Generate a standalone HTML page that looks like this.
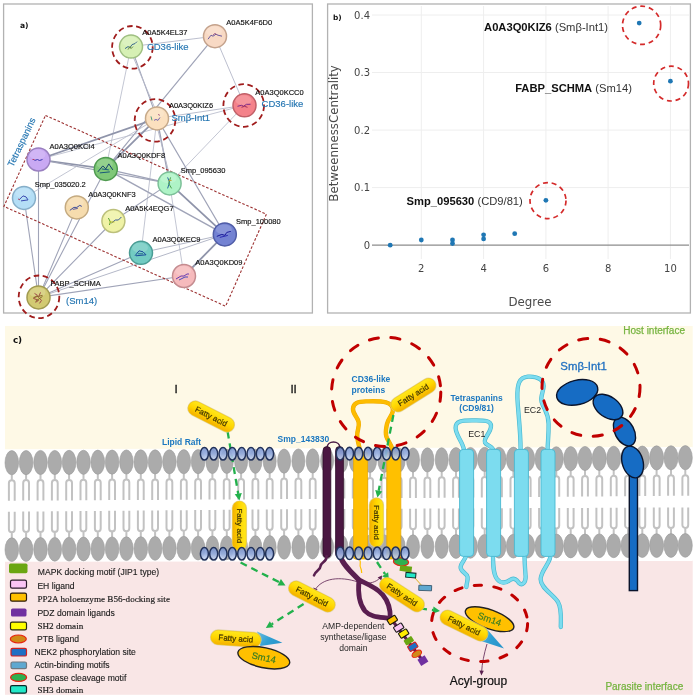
<!DOCTYPE html>
<html lang="en"><head><meta charset="utf-8"><title>Figure</title>
<style>
html,body{margin:0;padding:0;background:#fff;}
body{width:695px;height:700px;overflow:hidden;font-family:"Liberation Sans",Arial,sans-serif;}
svg{display:block;filter:blur(0.55px);}
</style></head><body>
<svg width="695" height="700" viewBox="0 0 695 700">
<defs>
<linearGradient id="gPill" x1="0" y1="0" x2="0" y2="1"><stop offset="0" stop-color="#ffe81e"/><stop offset="0.5" stop-color="#ffd600"/><stop offset="1" stop-color="#f4b000"/></linearGradient>
<linearGradient id="gRaft" x1="0" y1="0" x2="0" y2="1"><stop offset="0" stop-color="#cfdcf4"/><stop offset="0.55" stop-color="#9fb6e4"/><stop offset="1" stop-color="#5f7fc0"/></linearGradient>
<linearGradient id="gRaftB" x1="0" y1="0" x2="0" y2="1"><stop offset="0" stop-color="#7690cc"/><stop offset="0.5" stop-color="#94acde"/><stop offset="1" stop-color="#d2def6"/></linearGradient>
<linearGradient id="gTri" x1="0" y1="0" x2="1" y2="0.4"><stop offset="0" stop-color="#6fbbe0"/><stop offset="0.6" stop-color="#2f9fd2"/><stop offset="1" stop-color="#2a96cc"/></linearGradient>
</defs>
<rect width="695" height="700" fill="#ffffff"/>
<g id="panelA">
<rect x="3.6" y="4" width="308.8" height="309" fill="#fff" stroke="#b2b2b2" stroke-width="1.3"/>
<g stroke="#a3a7b8" fill="none" stroke-linecap="round">
<line x1="131.0" y1="46.6" x2="215.0" y2="36.2" stroke="#b4b8c8" stroke-width="0.9"/>
<line x1="131.0" y1="46.6" x2="157.0" y2="118.4" stroke="#a0a4b8" stroke-width="1.1"/>
<line x1="129.1" y1="47.3" x2="158.9" y2="117.7" stroke="#b4b8c8" stroke-width="0.9"/>
<line x1="131.0" y1="46.6" x2="105.8" y2="168.9" stroke="#b4b8c8" stroke-width="0.8"/>
<line x1="215.0" y1="36.2" x2="244.5" y2="105.3" stroke="#b4b8c8" stroke-width="0.9"/>
<line x1="215.0" y1="36.2" x2="105.8" y2="168.9" stroke="#a0a4b8" stroke-width="1.2"/>
<line x1="157.0" y1="118.4" x2="244.5" y2="105.3" stroke="#b4b8c8" stroke-width="0.9"/>
<line x1="244.5" y1="105.3" x2="169.6" y2="183.4" stroke="#b4b8c8" stroke-width="0.8"/>
<line x1="244.5" y1="105.3" x2="38.5" y2="159.5" stroke="#b4b8c8" stroke-width="0.8"/>
<line x1="157.0" y1="118.4" x2="38.5" y2="159.5" stroke="#8f94aa" stroke-width="1.8"/>
<line x1="157.0" y1="118.4" x2="105.8" y2="168.9" stroke="#8f94aa" stroke-width="1.7"/>
<line x1="157.0" y1="118.4" x2="169.6" y2="183.4" stroke="#a0a4b8" stroke-width="1.4"/>
<line x1="155.0" y1="118.8" x2="171.6" y2="183.0" stroke="#b4b8c8" stroke-width="0.9"/>
<line x1="157.0" y1="118.4" x2="224.8" y2="234.4" stroke="#a0a4b8" stroke-width="1.1"/>
<line x1="157.0" y1="118.4" x2="141.0" y2="252.8" stroke="#b4b8c8" stroke-width="0.8"/>
<line x1="38.5" y1="159.5" x2="105.8" y2="168.9" stroke="#8f94aa" stroke-width="1.7"/>
<line x1="38.5" y1="159.5" x2="169.6" y2="183.4" stroke="#a0a4b8" stroke-width="1.1"/>
<line x1="38.5" y1="159.5" x2="38.5" y2="297.4" stroke="#a0a4b8" stroke-width="1.1"/>
<line x1="105.8" y1="168.9" x2="169.6" y2="183.4" stroke="#a0a4b8" stroke-width="1.3"/>
<line x1="105.8" y1="168.9" x2="224.8" y2="234.4" stroke="#a0a4b8" stroke-width="1.5"/>
<line x1="105.8" y1="168.9" x2="38.5" y2="297.4" stroke="#a0a4b8" stroke-width="1.1"/>
<line x1="24.0" y1="197.9" x2="38.5" y2="297.4" stroke="#a0a4b8" stroke-width="1.1"/>
<line x1="76.8" y1="207.4" x2="38.5" y2="297.4" stroke="#a0a4b8" stroke-width="1.1"/>
<line x1="113.4" y1="221.0" x2="38.5" y2="297.4" stroke="#a0a4b8" stroke-width="1.1"/>
<line x1="141.0" y1="252.8" x2="38.5" y2="297.4" stroke="#a0a4b8" stroke-width="1.1"/>
<line x1="184.0" y1="276.0" x2="38.5" y2="297.4" stroke="#a0a4b8" stroke-width="1.1"/>
<line x1="224.8" y1="234.4" x2="38.5" y2="297.4" stroke="#b4b8c8" stroke-width="1.0"/>
<line x1="169.6" y1="183.4" x2="224.8" y2="234.4" stroke="#8f94aa" stroke-width="1.8"/>
<line x1="169.6" y1="183.4" x2="113.4" y2="221.0" stroke="#a0a4b8" stroke-width="1.1"/>
<line x1="169.6" y1="183.4" x2="184.0" y2="276.0" stroke="#b4b8c8" stroke-width="0.8"/>
<line x1="224.8" y1="234.4" x2="184.0" y2="276.0" stroke="#8f94aa" stroke-width="1.8"/>
<line x1="224.8" y1="234.4" x2="141.0" y2="252.8" stroke="#b4b8c8" stroke-width="1.0"/>
<line x1="24.0" y1="197.9" x2="157.0" y2="118.4" stroke="#b4b8c8" stroke-width="0.8"/>
</g>
<polygon points="45.5,115.4 266.4,214.2 225.6,306.2 3.9,206.4" fill="none" stroke="#9c3030" stroke-width="1.1" stroke-dasharray="2.6,1.8"/>
<g transform="translate(131,46.6)"><circle r="11.5" fill="#d6f0b4" stroke="#9fbf82" stroke-width="1.5"/><ellipse cx="-1" cy="-5" rx="8" ry="5" fill="#fff" opacity="0.16"/>
<path d="M-6,2 l3,-2 2,1 2,-3 3,-1 2,-2" fill="none" stroke="#3a6a8a" stroke-width="1" stroke-linejoin="round"/>
<path d="M-3,3 l2,-3 1,2 2,-2" fill="none" stroke="#6a8a4a" stroke-width="1" stroke-linejoin="round"/>
</g>
<g transform="translate(215,36.2)"><circle r="11.5" fill="#f8d9c4" stroke="#c4a28c" stroke-width="1.5"/><ellipse cx="-1" cy="-5" rx="8" ry="5" fill="#fff" opacity="0.16"/>
<path d="M-7,3 l3,-4 2,1 3,-2 2,1 4,1" fill="none" stroke="#6a5aa0" stroke-width="1" stroke-linejoin="round"/>
<path d="M-2,-1 l2,-2 2,2" fill="none" stroke="#a05a80" stroke-width="1" stroke-linejoin="round"/>
</g>
<g transform="translate(157,118.4)"><circle r="11.5" fill="#fbe0bf" stroke="#c6a98a" stroke-width="1.5"/><ellipse cx="-1" cy="-5" rx="8" ry="5" fill="#fff" opacity="0.16"/>
<path d="M-3,2 l2,-1 2,1 2,-3" fill="none" stroke="#7a6ab0" stroke-width="1" stroke-linejoin="round"/>
<path d="M-6,-2 l1,4" fill="none" stroke="#50a080" stroke-width="1" stroke-linejoin="round"/>
<path d="M1,-4 l2,1" fill="none" stroke="#b06a8a" stroke-width="1" stroke-linejoin="round"/>
</g>
<g transform="translate(244.5,105.3)"><circle r="11.5" fill="#f4828a" stroke="#c06068" stroke-width="1.5"/><ellipse cx="-1" cy="-5" rx="8" ry="5" fill="#fff" opacity="0.16"/>
<path d="M-7,1 l4,-1 2,1 3,-2 4,0" fill="none" stroke="#7a2a8a" stroke-width="1" stroke-linejoin="round"/>
<path d="M-3,2 l3,-1 3,1" fill="none" stroke="#a03060" stroke-width="1" stroke-linejoin="round"/>
</g>
<g transform="translate(38.5,159.5)"><circle r="11.5" fill="#c9a9f3" stroke="#9a80c0" stroke-width="1.5"/><ellipse cx="-1" cy="-5" rx="8" ry="5" fill="#fff" opacity="0.16"/>
<path d="M-4,1 l3,-1 2,1 3,-1" fill="none" stroke="#3a3ab0" stroke-width="1" stroke-linejoin="round"/>
<path d="M-6,0 l2,0" fill="none" stroke="#b03a6a" stroke-width="1" stroke-linejoin="round"/>
</g>
<g transform="translate(105.8,168.9)"><circle r="11.5" fill="#7fc878" stroke="#4f9a50" stroke-width="1.5"/><ellipse cx="-1" cy="-5" rx="8" ry="5" fill="#fff" opacity="0.16"/>
<path d="M-8,3 l5,-6 3,3 3,-5 4,6" fill="none" stroke="#14406a" stroke-width="1" stroke-linejoin="round"/>
<path d="M-6,4 l10,-1 M-4,0 l7,1" fill="none" stroke="#1a5a7a" stroke-width="1" stroke-linejoin="round"/>
</g>
<g transform="translate(169.6,183.4)"><circle r="11.5" fill="#aef3c6" stroke="#7cc098" stroke-width="1.5"/><ellipse cx="-1" cy="-5" rx="8" ry="5" fill="#fff" opacity="0.16"/>
<path d="M-2,-6 l2,5 -2,6" fill="none" stroke="#2a6aa0" stroke-width="1" stroke-linejoin="round"/>
<path d="M1,-6 l-2,6 3,5" fill="none" stroke="#4aa04a" stroke-width="1" stroke-linejoin="round"/>
<path d="M-1,-3 l3,0" fill="none" stroke="#c0a030" stroke-width="1" stroke-linejoin="round"/>
</g>
<g transform="translate(24,197.9)"><circle r="11.5" fill="#b4def6" stroke="#86aec8" stroke-width="1.5"/><ellipse cx="-1" cy="-5" rx="8" ry="5" fill="#fff" opacity="0.16"/>
<path d="M-5,2 l4,-4 3,1 2,3 -7,1" fill="none" stroke="#3a4ab0" stroke-width="1" stroke-linejoin="round"/>
<path d="M-6,1 l2,1" fill="none" stroke="#b04a6a" stroke-width="1" stroke-linejoin="round"/>
</g>
<g transform="translate(76.8,207.4)"><circle r="11.5" fill="#f6dcae" stroke="#c4aa80" stroke-width="1.5"/><ellipse cx="-1" cy="-5" rx="8" ry="5" fill="#fff" opacity="0.16"/>
<path d="M-7,3 l4,-3 3,0 3,-2 2,1" fill="none" stroke="#3a4a9a" stroke-width="1" stroke-linejoin="round"/>
<path d="M-4,2 l5,-1" fill="none" stroke="#5a5aa0" stroke-width="1" stroke-linejoin="round"/>
</g>
<g transform="translate(113.4,221)"><circle r="11.5" fill="#eff2a6" stroke="#bcc07c" stroke-width="1.5"/><ellipse cx="-1" cy="-5" rx="8" ry="5" fill="#fff" opacity="0.16"/>
<path d="M-2,2 l4,-3 3,0 3,-3" fill="none" stroke="#3a5a9a" stroke-width="1" stroke-linejoin="round"/>
<path d="M-5,-3 l2,4 -1,3" fill="none" stroke="#5aa030" stroke-width="1" stroke-linejoin="round"/>
<path d="M-4,1 l5,0" fill="none" stroke="#c0c020" stroke-width="1" stroke-linejoin="round"/>
</g>
<g transform="translate(224.8,234.4)"><circle r="11.5" fill="#7382d2" stroke="#4f5ca6" stroke-width="1.5"/><ellipse cx="-1" cy="-5" rx="8" ry="5" fill="#fff" opacity="0.16"/>
<path d="M-8,2 l5,-2 3,1 2,-3 4,-1" fill="none" stroke="#1a1a9a" stroke-width="1" stroke-linejoin="round"/>
<path d="M-5,3 l8,-2" fill="none" stroke="#2a2ab0" stroke-width="1" stroke-linejoin="round"/>
</g>
<g transform="translate(141,252.8)"><circle r="11.5" fill="#72cbc2" stroke="#4a9c94" stroke-width="1.5"/><ellipse cx="-1" cy="-5" rx="8" ry="5" fill="#fff" opacity="0.16"/>
<path d="M-6,3 l4,-5 4,1 3,3 -10,1" fill="none" stroke="#1a4a9a" stroke-width="1" stroke-linejoin="round"/>
<path d="M-3,1 l5,0" fill="none" stroke="#2a6a8a" stroke-width="1" stroke-linejoin="round"/>
</g>
<g transform="translate(184,276)"><circle r="11.5" fill="#f6babc" stroke="#c48c90" stroke-width="1.5"/><ellipse cx="-1" cy="-5" rx="8" ry="5" fill="#fff" opacity="0.16"/>
<path d="M-8,3 l5,-3 3,0 3,-2 2,0" fill="none" stroke="#6a3ab0" stroke-width="1" stroke-linejoin="round"/>
<path d="M-5,4 l6,-3 3,0" fill="none" stroke="#4a4ac0" stroke-width="1" stroke-linejoin="round"/>
</g>
<g transform="translate(38.5,297.4)"><circle r="11.5" fill="#d2ca72" stroke="#a09a50" stroke-width="1.5"/><ellipse cx="-1" cy="-5" rx="8" ry="5" fill="#fff" opacity="0.16"/>
<path d="M-4,-4 l3,2 -4,3 5,2 -3,2 M2,-5 l-2,5 3,3 -2,3" fill="none" stroke="#a04a4a" stroke-width="1" stroke-linejoin="round"/>
<path d="M-5,0 l9,-2 M-3,4 l7,-5" fill="none" stroke="#8a6a2a" stroke-width="1" stroke-linejoin="round"/>
</g>
<ellipse cx="132.4" cy="47.3" rx="20.3" ry="21.3" fill="none" stroke="#a01c1c" stroke-width="1.8" stroke-dasharray="5.6,3.6"/>
<ellipse cx="155" cy="120.4" rx="20.3" ry="21.3" fill="none" stroke="#a01c1c" stroke-width="1.8" stroke-dasharray="5.6,3.6"/>
<ellipse cx="243.7" cy="105.5" rx="20.3" ry="21.3" fill="none" stroke="#a01c1c" stroke-width="1.8" stroke-dasharray="5.6,3.6"/>
<ellipse cx="39" cy="296.8" rx="20.3" ry="21.3" fill="none" stroke="#a01c1c" stroke-width="1.8" stroke-dasharray="5.6,3.6"/>
<g font-family="'Liberation Sans',Arial,sans-serif" font-size="7.5" fill="#111" stroke="#111" stroke-width="0.15">
<text x="142.3" y="35.3">A0A5K4EL37</text>
<text x="226.3" y="24.7">A0A5K4F6D0</text>
<text x="168.9" y="107.8">A0A3Q0KIZ6</text>
<text x="255.3" y="94.5">A0A3Q0KCC0</text>
<text x="49.6" y="148.6">A0A3Q0KCI4</text>
<text x="117.6" y="158.2">A0A3Q0KDF8</text>
<text x="180.7" y="172.7">Smp_095630</text>
<text x="34.8" y="186.5">Smp_035020.2</text>
<text x="88.2" y="197.1">A0A3Q0KNF3</text>
<text x="125.2" y="210.5">A0A5K4EQG7</text>
<text x="236.1" y="223.6">Smp_100080</text>
<text x="152.5" y="242">A0A3Q0KEC9</text>
<text x="195.3" y="264.6">A0A3Q0KD09</text>
<text x="50.4" y="286">FABP_SCHMA</text>
</g>
<g font-family="'Liberation Sans',Arial,sans-serif" font-size="9.5" fill="#2576b2" stroke="#2576b2" stroke-width="0.15">
<text x="146.9" y="50.4">CD36-like</text>
<text x="261.6" y="106.5">CD36-like</text>
<text x="171.4" y="121">Smβ-Int1</text>
<text x="66" y="304">(Sm14)</text>
<text transform="translate(13,167.6) rotate(-64.5)" font-size="9.4">Tetraspanins</text>
</g>
<text x="20" y="27.5" font-family="'DejaVu Sans',Verdana,sans-serif" font-weight="bold" font-size="7.6" fill="#111">a)</text>
</g>
<g id="panelB">
<rect x="327.6" y="4" width="362.8" height="309" fill="#fff" stroke="#b2b2b2" stroke-width="1.3"/>
<g stroke="#eeeeee" stroke-width="1">
<line x1="421.3" y1="6" x2="421.3" y2="259"/>
<line x1="483.6" y1="6" x2="483.6" y2="259"/>
<line x1="545.9" y1="6" x2="545.9" y2="259"/>
<line x1="608.1" y1="6" x2="608.1" y2="259"/>
<line x1="670.4" y1="6" x2="670.4" y2="259"/>
<line x1="372" y1="187.6" x2="689" y2="187.6"/>
<line x1="372" y1="130.1" x2="689" y2="130.1"/>
<line x1="372" y1="72.5" x2="689" y2="72.5"/>
<line x1="372" y1="15.0" x2="689" y2="15.0"/>
</g>
<line x1="372" y1="245.2" x2="689" y2="245.2" stroke="#8c8c8c" stroke-width="1.2"/>
<g font-family="'DejaVu Sans',Verdana,sans-serif" font-size="10" fill="#454545">
<text x="370" y="248.8" text-anchor="end">0</text>
<text x="370" y="191.2" text-anchor="end">0.1</text>
<text x="370" y="133.7" text-anchor="end">0.2</text>
<text x="370" y="76.1" text-anchor="end">0.3</text>
<text x="370" y="18.6" text-anchor="end">0.4</text>
<text x="421.3" y="272.2" text-anchor="middle">2</text>
<text x="483.6" y="272.2" text-anchor="middle">4</text>
<text x="545.9" y="272.2" text-anchor="middle">6</text>
<text x="608.1" y="272.2" text-anchor="middle">8</text>
<text x="670.4" y="272.2" text-anchor="middle">10</text>
</g>
<g font-family="'DejaVu Sans',Verdana,sans-serif" font-size="11.8" fill="#4a4a4a">
<text x="530" y="306" text-anchor="middle">Degree</text>
<text transform="translate(338.4,133.4) rotate(-90)" text-anchor="middle">BetweennessCentrality</text>
</g>
<g fill="#1f77b4">
<circle cx="390.2" cy="245.2" r="2.4"/>
<circle cx="421.3" cy="240.0" r="2.4"/>
<circle cx="452.5" cy="240.0" r="2.4"/>
<circle cx="452.5" cy="243.5" r="2.4"/>
<circle cx="483.6" cy="234.8" r="2.4"/>
<circle cx="483.6" cy="238.9" r="2.4"/>
<circle cx="514.7" cy="233.7" r="2.4"/>
<circle cx="545.9" cy="200.3" r="2.4"/>
<circle cx="639.2" cy="23.1" r="2.4"/>
<circle cx="670.4" cy="81.2" r="2.4"/>
</g>
<circle cx="641.6" cy="25.3" r="19.1" fill="none" stroke="#d42a2a" stroke-width="1.7" stroke-dasharray="5,3.8"/>
<circle cx="671.1" cy="83.6" r="17.4" fill="none" stroke="#d42a2a" stroke-width="1.7" stroke-dasharray="5,3.8"/>
<circle cx="548" cy="200.6" r="18" fill="none" stroke="#d42a2a" stroke-width="1.7" stroke-dasharray="5,3.8"/>
<g font-family="'Liberation Sans',Arial,sans-serif" font-size="11.2" fill="#333">
<text x="608" y="30.8" text-anchor="end"><tspan font-weight="bold" fill="#111">A0A3Q0KIZ6</tspan> (Smβ-Int1)</text>
<text x="632" y="91.8" text-anchor="end"><tspan font-weight="bold" fill="#111">FABP_SCHMA</tspan> (Sm14)</text>
<text x="406.5" y="205"><tspan font-weight="bold" fill="#111">Smp_095630</tspan> (CD9/81)</text>
</g>
<text x="332.9" y="20" font-family="'DejaVu Sans',Verdana,sans-serif" font-weight="bold" font-size="7.4" fill="#111">b)</text>
</g>
<g id="panelC">
<rect x="5" y="326" width="687.7" height="126" fill="#fef9e6"/>
<rect x="5" y="560" width="687.7" height="134.8" fill="#f9e6e6"/>
<polygon points="5,449.3 692.7,447 692.7,560.9 5,561.7" fill="#ffffff"/>
<g id="lipids">
<g fill="none" stroke="#c2c2c2" stroke-width="2"><path d="M11.8,474.2 V480.2 M8.9,500.7 V483.1 a2.9,2.9 0 0 1 5.8,0 V500.7"/><path d="M11.8,538.2 V532.2 M8.9,511.7 V529.3 a2.9,2.9 0 0 0 5.8,0 V511.7"/><path d="M26.1,474.1 V480.1 M23.2,500.6 V483.0 a2.9,2.9 0 0 1 5.8,0 V500.6"/><path d="M26.1,538.0 V532.0 M23.2,511.5 V529.1 a2.9,2.9 0 0 0 5.8,0 V511.5"/><path d="M40.5,474.0 V480.0 M37.6,500.5 V482.9 a2.9,2.9 0 0 1 5.8,0 V500.5"/><path d="M40.5,537.9 V531.9 M37.6,511.4 V529.0 a2.9,2.9 0 0 0 5.8,0 V511.4"/><path d="M54.8,474.0 V480.0 M51.9,500.5 V482.9 a2.9,2.9 0 0 1 5.8,0 V500.5"/><path d="M54.8,537.8 V531.8 M51.9,511.3 V528.9 a2.9,2.9 0 0 0 5.8,0 V511.3"/><path d="M69.1,473.9 V479.9 M66.2,500.4 V482.8 a2.9,2.9 0 0 1 5.8,0 V500.4"/><path d="M69.1,537.7 V531.7 M66.2,511.2 V528.8 a2.9,2.9 0 0 0 5.8,0 V511.2"/><path d="M83.5,473.8 V479.8 M80.5,500.3 V482.7 a2.9,2.9 0 0 1 5.8,0 V500.3"/><path d="M83.5,537.5 V531.5 M80.5,511.0 V528.6 a2.9,2.9 0 0 0 5.8,0 V511.0"/><path d="M97.8,473.7 V479.7 M94.9,500.2 V482.6 a2.9,2.9 0 0 1 5.8,0 V500.2"/><path d="M97.8,537.4 V531.4 M94.9,510.9 V528.5 a2.9,2.9 0 0 0 5.8,0 V510.9"/><path d="M112.1,473.6 V479.6 M109.2,500.1 V482.5 a2.9,2.9 0 0 1 5.8,0 V500.1"/><path d="M112.1,537.3 V531.3 M109.2,510.8 V528.4 a2.9,2.9 0 0 0 5.8,0 V510.8"/><path d="M126.4,473.5 V479.5 M123.5,500.0 V482.4 a2.9,2.9 0 0 1 5.8,0 V500.0"/><path d="M126.4,537.2 V531.2 M123.5,510.7 V528.3 a2.9,2.9 0 0 0 5.8,0 V510.7"/><path d="M140.8,473.4 V479.4 M137.9,499.9 V482.3 a2.9,2.9 0 0 1 5.8,0 V499.9"/><path d="M140.8,537.1 V531.1 M137.9,510.6 V528.2 a2.9,2.9 0 0 0 5.8,0 V510.6"/><path d="M155.1,473.4 V479.4 M152.2,499.9 V482.3 a2.9,2.9 0 0 1 5.8,0 V499.9"/><path d="M155.1,536.9 V530.9 M152.2,510.4 V528.0 a2.9,2.9 0 0 0 5.8,0 V510.4"/><path d="M169.4,473.3 V479.3 M166.5,499.8 V482.2 a2.9,2.9 0 0 1 5.8,0 V499.8"/><path d="M169.4,536.8 V530.8 M166.5,510.3 V527.9 a2.9,2.9 0 0 0 5.8,0 V510.3"/><path d="M183.8,473.2 V479.2 M180.9,499.7 V482.1 a2.9,2.9 0 0 1 5.8,0 V499.7"/><path d="M183.8,536.7 V530.7 M180.9,510.2 V527.8 a2.9,2.9 0 0 0 5.8,0 V510.2"/><path d="M198.1,473.1 V479.1 M195.2,499.6 V482.0 a2.9,2.9 0 0 1 5.8,0 V499.6"/><path d="M198.1,536.6 V530.6 M195.2,510.1 V527.7 a2.9,2.9 0 0 0 5.8,0 V510.1"/><path d="M212.4,473.0 V479.0 M209.5,499.5 V481.9 a2.9,2.9 0 0 1 5.8,0 V499.5"/><path d="M212.4,536.4 V530.4 M209.5,509.9 V527.5 a2.9,2.9 0 0 0 5.8,0 V509.9"/><path d="M226.8,472.9 V478.9 M223.8,499.4 V481.8 a2.9,2.9 0 0 1 5.8,0 V499.4"/><path d="M226.8,536.3 V530.3 M223.8,509.8 V527.4 a2.9,2.9 0 0 0 5.8,0 V509.8"/><path d="M241.1,472.9 V478.9 M238.2,499.4 V481.8 a2.9,2.9 0 0 1 5.8,0 V499.4"/><path d="M241.1,536.2 V530.2 M238.2,509.7 V527.3 a2.9,2.9 0 0 0 5.8,0 V509.7"/><path d="M255.4,472.8 V478.8 M252.5,499.3 V481.7 a2.9,2.9 0 0 1 5.8,0 V499.3"/><path d="M255.4,536.1 V530.1 M252.5,509.6 V527.2 a2.9,2.9 0 0 0 5.8,0 V509.6"/><path d="M269.7,472.7 V478.7 M266.8,499.2 V481.6 a2.9,2.9 0 0 1 5.8,0 V499.2"/><path d="M269.7,536.0 V530.0 M266.8,509.5 V527.1 a2.9,2.9 0 0 0 5.8,0 V509.5"/><path d="M284.1,472.6 V478.6 M281.2,499.1 V481.5 a2.9,2.9 0 0 1 5.8,0 V499.1"/><path d="M284.1,535.8 V529.8 M281.2,509.3 V526.9 a2.9,2.9 0 0 0 5.8,0 V509.3"/><path d="M298.4,472.5 V478.5 M295.5,499.0 V481.4 a2.9,2.9 0 0 1 5.8,0 V499.0"/><path d="M298.4,535.7 V529.7 M295.5,509.2 V526.8 a2.9,2.9 0 0 0 5.8,0 V509.2"/><path d="M312.7,472.4 V478.4 M309.8,498.9 V481.3 a2.9,2.9 0 0 1 5.8,0 V498.9"/><path d="M312.7,535.6 V529.6 M309.8,509.1 V526.7 a2.9,2.9 0 0 0 5.8,0 V509.1"/><path d="M327.1,472.3 V478.3 M324.2,498.8 V481.2 a2.9,2.9 0 0 1 5.8,0 V498.8"/><path d="M327.1,535.6 V529.6 M324.2,509.1 V526.7 a2.9,2.9 0 0 0 5.8,0 V509.1"/><path d="M341.4,472.1 V478.1 M338.5,498.6 V481.0 a2.9,2.9 0 0 1 5.8,0 V498.6"/><path d="M341.4,535.5 V529.5 M338.5,509.0 V526.6 a2.9,2.9 0 0 0 5.8,0 V509.0"/><path d="M355.7,472.0 V478.0 M352.8,498.5 V480.9 a2.9,2.9 0 0 1 5.8,0 V498.5"/><path d="M355.7,535.4 V529.4 M352.8,508.9 V526.5 a2.9,2.9 0 0 0 5.8,0 V508.9"/><path d="M370.1,471.9 V477.9 M367.2,498.4 V480.8 a2.9,2.9 0 0 1 5.8,0 V498.4"/><path d="M370.1,535.4 V529.4 M367.2,508.9 V526.5 a2.9,2.9 0 0 0 5.8,0 V508.9"/><path d="M384.4,471.8 V477.8 M381.5,498.3 V480.7 a2.9,2.9 0 0 1 5.8,0 V498.3"/><path d="M384.4,535.3 V529.3 M381.5,508.8 V526.4 a2.9,2.9 0 0 0 5.8,0 V508.8"/><path d="M398.7,471.6 V477.6 M395.8,498.1 V480.5 a2.9,2.9 0 0 1 5.8,0 V498.1"/><path d="M398.7,535.2 V529.2 M395.8,508.7 V526.3 a2.9,2.9 0 0 0 5.8,0 V508.7"/><path d="M413.0,471.5 V477.5 M410.1,498.0 V480.4 a2.9,2.9 0 0 1 5.8,0 V498.0"/><path d="M413.0,535.2 V529.2 M410.1,508.7 V526.3 a2.9,2.9 0 0 0 5.8,0 V508.7"/><path d="M427.4,471.4 V477.4 M424.5,497.9 V480.3 a2.9,2.9 0 0 1 5.8,0 V497.9"/><path d="M427.4,535.1 V529.1 M424.5,508.6 V526.2 a2.9,2.9 0 0 0 5.8,0 V508.6"/><path d="M441.7,471.3 V477.3 M438.8,497.8 V480.2 a2.9,2.9 0 0 1 5.8,0 V497.8"/><path d="M441.7,535.0 V529.0 M438.8,508.5 V526.1 a2.9,2.9 0 0 0 5.8,0 V508.5"/><path d="M456.0,471.2 V477.2 M453.1,497.7 V480.1 a2.9,2.9 0 0 1 5.8,0 V497.7"/><path d="M456.0,535.0 V529.0 M453.1,508.5 V526.1 a2.9,2.9 0 0 0 5.8,0 V508.5"/><path d="M470.4,471.0 V477.0 M467.5,497.5 V479.9 a2.9,2.9 0 0 1 5.8,0 V497.5"/><path d="M470.4,534.9 V528.9 M467.5,508.4 V526.0 a2.9,2.9 0 0 0 5.8,0 V508.4"/><path d="M484.7,470.9 V476.9 M481.8,497.4 V479.8 a2.9,2.9 0 0 1 5.8,0 V497.4"/><path d="M484.7,534.8 V528.8 M481.8,508.3 V525.9 a2.9,2.9 0 0 0 5.8,0 V508.3"/><path d="M499.0,470.8 V476.8 M496.1,497.3 V479.7 a2.9,2.9 0 0 1 5.8,0 V497.3"/><path d="M499.0,534.8 V528.8 M496.1,508.3 V525.9 a2.9,2.9 0 0 0 5.8,0 V508.3"/><path d="M513.4,470.7 V476.7 M510.5,497.2 V479.6 a2.9,2.9 0 0 1 5.8,0 V497.2"/><path d="M513.4,534.7 V528.7 M510.5,508.2 V525.8 a2.9,2.9 0 0 0 5.8,0 V508.2"/><path d="M527.7,470.5 V476.5 M524.8,497.0 V479.4 a2.9,2.9 0 0 1 5.8,0 V497.0"/><path d="M527.7,534.6 V528.6 M524.8,508.1 V525.7 a2.9,2.9 0 0 0 5.8,0 V508.1"/><path d="M542.0,470.4 V476.4 M539.1,496.9 V479.3 a2.9,2.9 0 0 1 5.8,0 V496.9"/><path d="M542.0,534.6 V528.6 M539.1,508.1 V525.7 a2.9,2.9 0 0 0 5.8,0 V508.1"/><path d="M556.3,470.3 V476.3 M553.4,496.8 V479.2 a2.9,2.9 0 0 1 5.8,0 V496.8"/><path d="M556.3,534.5 V528.5 M553.4,508.0 V525.6 a2.9,2.9 0 0 0 5.8,0 V508.0"/><path d="M570.7,470.2 V476.2 M567.8,496.7 V479.1 a2.9,2.9 0 0 1 5.8,0 V496.7"/><path d="M570.7,534.5 V528.5 M567.8,508.0 V525.6 a2.9,2.9 0 0 0 5.8,0 V508.0"/><path d="M585.0,470.0 V476.0 M582.1,496.5 V478.9 a2.9,2.9 0 0 1 5.8,0 V496.5"/><path d="M585.0,534.4 V528.4 M582.1,507.9 V525.5 a2.9,2.9 0 0 0 5.8,0 V507.9"/><path d="M599.3,469.9 V475.9 M596.4,496.4 V478.8 a2.9,2.9 0 0 1 5.8,0 V496.4"/><path d="M599.3,534.3 V528.3 M596.4,507.8 V525.4 a2.9,2.9 0 0 0 5.8,0 V507.8"/><path d="M613.7,469.8 V475.8 M610.8,496.3 V478.7 a2.9,2.9 0 0 1 5.8,0 V496.3"/><path d="M613.7,534.3 V528.3 M610.8,507.8 V525.4 a2.9,2.9 0 0 0 5.8,0 V507.8"/><path d="M628.0,469.7 V475.7 M625.1,496.2 V478.6 a2.9,2.9 0 0 1 5.8,0 V496.2"/><path d="M628.0,534.2 V528.2 M625.1,507.7 V525.3 a2.9,2.9 0 0 0 5.8,0 V507.7"/><path d="M642.3,469.6 V475.6 M639.4,496.1 V478.5 a2.9,2.9 0 0 1 5.8,0 V496.1"/><path d="M642.3,534.1 V528.1 M639.4,507.6 V525.2 a2.9,2.9 0 0 0 5.8,0 V507.6"/><path d="M656.6,469.4 V475.4 M653.8,495.9 V478.3 a2.9,2.9 0 0 1 5.8,0 V495.9"/><path d="M656.6,534.1 V528.1 M653.8,507.6 V525.2 a2.9,2.9 0 0 0 5.8,0 V507.6"/><path d="M671.0,469.3 V475.3 M668.1,495.8 V478.2 a2.9,2.9 0 0 1 5.8,0 V495.8"/><path d="M671.0,534.0 V528.0 M668.1,507.5 V525.1 a2.9,2.9 0 0 0 5.8,0 V507.5"/><path d="M685.3,469.2 V475.2 M682.4,495.7 V478.1 a2.9,2.9 0 0 1 5.8,0 V495.7"/><path d="M685.3,533.9 V527.9 M682.4,507.4 V525.0 a2.9,2.9 0 0 0 5.8,0 V507.4"/></g>
<g fill="#ababab" stroke="#9a9a9a" stroke-width="0.6"><ellipse cx="11.8" cy="462.7" rx="6.8" ry="12.1"/><ellipse cx="11.8" cy="549.7" rx="6.8" ry="11.9"/><ellipse cx="26.1" cy="462.6" rx="6.8" ry="12.1"/><ellipse cx="26.1" cy="549.5" rx="6.8" ry="11.9"/><ellipse cx="40.5" cy="462.5" rx="6.8" ry="12.1"/><ellipse cx="40.5" cy="549.4" rx="6.8" ry="11.9"/><ellipse cx="54.8" cy="462.5" rx="6.8" ry="12.1"/><ellipse cx="54.8" cy="549.3" rx="6.8" ry="11.9"/><ellipse cx="69.1" cy="462.4" rx="6.8" ry="12.1"/><ellipse cx="69.1" cy="549.2" rx="6.8" ry="11.9"/><ellipse cx="83.5" cy="462.3" rx="6.8" ry="12.1"/><ellipse cx="83.5" cy="549.0" rx="6.8" ry="11.9"/><ellipse cx="97.8" cy="462.2" rx="6.8" ry="12.1"/><ellipse cx="97.8" cy="548.9" rx="6.8" ry="11.9"/><ellipse cx="112.1" cy="462.1" rx="6.8" ry="12.1"/><ellipse cx="112.1" cy="548.8" rx="6.8" ry="11.9"/><ellipse cx="126.4" cy="462.0" rx="6.8" ry="12.1"/><ellipse cx="126.4" cy="548.7" rx="6.8" ry="11.9"/><ellipse cx="140.8" cy="461.9" rx="6.8" ry="12.1"/><ellipse cx="140.8" cy="548.6" rx="6.8" ry="11.9"/><ellipse cx="155.1" cy="461.9" rx="6.8" ry="12.1"/><ellipse cx="155.1" cy="548.4" rx="6.8" ry="11.9"/><ellipse cx="169.4" cy="461.8" rx="6.8" ry="12.1"/><ellipse cx="169.4" cy="548.3" rx="6.8" ry="11.9"/><ellipse cx="183.8" cy="461.7" rx="6.8" ry="12.1"/><ellipse cx="183.8" cy="548.2" rx="6.8" ry="11.9"/><ellipse cx="198.1" cy="461.6" rx="6.8" ry="12.1"/><ellipse cx="198.1" cy="548.1" rx="6.8" ry="11.9"/><ellipse cx="212.4" cy="461.5" rx="6.5" ry="12.1"/><ellipse cx="212.4" cy="547.9" rx="6.5" ry="11.9"/><ellipse cx="226.8" cy="461.4" rx="6.5" ry="12.1"/><ellipse cx="226.8" cy="547.8" rx="6.5" ry="11.9"/><ellipse cx="241.1" cy="461.4" rx="6.5" ry="12.1"/><ellipse cx="241.1" cy="547.7" rx="6.5" ry="11.9"/><ellipse cx="255.4" cy="461.3" rx="6.5" ry="12.1"/><ellipse cx="255.4" cy="547.6" rx="6.5" ry="11.9"/><ellipse cx="269.7" cy="461.2" rx="6.5" ry="12.1"/><ellipse cx="269.7" cy="547.5" rx="6.5" ry="11.9"/><ellipse cx="284.1" cy="461.1" rx="6.5" ry="12.1"/><ellipse cx="284.1" cy="547.3" rx="6.5" ry="11.9"/><ellipse cx="298.4" cy="461.0" rx="6.5" ry="12.1"/><ellipse cx="298.4" cy="547.2" rx="6.5" ry="11.9"/><ellipse cx="312.7" cy="460.9" rx="6.5" ry="12.1"/><ellipse cx="312.7" cy="547.1" rx="6.5" ry="11.9"/><ellipse cx="327.1" cy="460.8" rx="6.5" ry="12.1"/><ellipse cx="327.1" cy="547.1" rx="6.5" ry="11.9"/><ellipse cx="341.4" cy="460.6" rx="6.5" ry="12.1"/><ellipse cx="341.4" cy="547.0" rx="6.5" ry="11.9"/><ellipse cx="355.7" cy="460.5" rx="6.5" ry="12.1"/><ellipse cx="355.7" cy="546.9" rx="6.5" ry="11.9"/><ellipse cx="370.1" cy="460.4" rx="6.5" ry="12.1"/><ellipse cx="370.1" cy="546.9" rx="6.5" ry="11.9"/><ellipse cx="384.4" cy="460.3" rx="6.5" ry="12.1"/><ellipse cx="384.4" cy="546.8" rx="6.5" ry="11.9"/><ellipse cx="398.7" cy="460.1" rx="6.5" ry="12.1"/><ellipse cx="398.7" cy="546.7" rx="6.5" ry="11.9"/><ellipse cx="413.0" cy="460.0" rx="6.5" ry="12.1"/><ellipse cx="413.0" cy="546.7" rx="6.5" ry="11.9"/><ellipse cx="427.4" cy="459.9" rx="6.5" ry="12.1"/><ellipse cx="427.4" cy="546.6" rx="6.5" ry="11.9"/><ellipse cx="441.7" cy="459.8" rx="6.5" ry="12.1"/><ellipse cx="441.7" cy="546.5" rx="6.5" ry="11.9"/><ellipse cx="456.0" cy="459.7" rx="7.0" ry="12.1"/><ellipse cx="456.0" cy="546.5" rx="7.0" ry="11.9"/><ellipse cx="470.4" cy="459.5" rx="7.0" ry="12.1"/><ellipse cx="470.4" cy="546.4" rx="7.0" ry="11.9"/><ellipse cx="484.7" cy="459.4" rx="7.0" ry="12.1"/><ellipse cx="484.7" cy="546.3" rx="7.0" ry="11.9"/><ellipse cx="499.0" cy="459.3" rx="7.0" ry="12.1"/><ellipse cx="499.0" cy="546.3" rx="7.0" ry="11.9"/><ellipse cx="513.4" cy="459.2" rx="7.0" ry="12.1"/><ellipse cx="513.4" cy="546.2" rx="7.0" ry="11.9"/><ellipse cx="527.7" cy="459.0" rx="7.0" ry="12.1"/><ellipse cx="527.7" cy="546.1" rx="7.0" ry="11.9"/><ellipse cx="542.0" cy="458.9" rx="7.0" ry="12.1"/><ellipse cx="542.0" cy="546.1" rx="7.0" ry="11.9"/><ellipse cx="556.3" cy="458.8" rx="7.0" ry="12.1"/><ellipse cx="556.3" cy="546.0" rx="7.0" ry="11.9"/><ellipse cx="570.7" cy="458.7" rx="7.0" ry="12.1"/><ellipse cx="570.7" cy="546.0" rx="7.0" ry="11.9"/><ellipse cx="585.0" cy="458.5" rx="7.0" ry="12.1"/><ellipse cx="585.0" cy="545.9" rx="7.0" ry="11.9"/><ellipse cx="599.3" cy="458.4" rx="7.0" ry="12.1"/><ellipse cx="599.3" cy="545.8" rx="7.0" ry="11.9"/><ellipse cx="613.7" cy="458.3" rx="7.0" ry="12.1"/><ellipse cx="613.7" cy="545.8" rx="7.0" ry="11.9"/><ellipse cx="628.0" cy="458.2" rx="7.0" ry="12.1"/><ellipse cx="628.0" cy="545.7" rx="7.0" ry="11.9"/><ellipse cx="642.3" cy="458.1" rx="7.0" ry="12.1"/><ellipse cx="642.3" cy="545.6" rx="7.0" ry="11.9"/><ellipse cx="656.6" cy="457.9" rx="7.0" ry="12.1"/><ellipse cx="656.6" cy="545.6" rx="7.0" ry="11.9"/><ellipse cx="671.0" cy="457.8" rx="7.0" ry="12.1"/><ellipse cx="671.0" cy="545.5" rx="7.0" ry="11.9"/><ellipse cx="685.3" cy="457.7" rx="7.0" ry="12.1"/><ellipse cx="685.3" cy="545.4" rx="7.0" ry="11.9"/></g>
</g>
<g id="smp143830">
<path d="M327,448 C327,440 340,440 340,448" fill="none" stroke="#4a1a44" stroke-width="1.6"/>
<rect x="323" y="446.6" width="7.8" height="111" rx="3.9" fill="#4a1742" stroke="#2e0c28" stroke-width="0.8"/>
<rect x="335.6" y="446.6" width="7.8" height="111" rx="3.9" fill="#4a1742" stroke="#2e0c28" stroke-width="0.8"/>
<path d="M326.6,556 C327,562 321,562 320.6,566 C320.4,570 316,570 314,575.4" fill="none" stroke="#5a2050" stroke-width="2.6" stroke-linecap="round"/>
<path d="M340,555 C342,564 351,572 358.4,579.4" fill="none" stroke="#5a1e50" stroke-width="5.2" stroke-linecap="round"/>
<path d="M359,580 C358,590 358.6,603 365,611 C371,617.6 381,617 390.3,618.6 C390.6,610 388,601 382.6,594.6 C376,587 367,584 359,580 Z" fill="none" stroke="#5a1e50" stroke-width="4.8" stroke-linejoin="round"/>
</g>
<path d="M358,582 C340,576 322,578 315,590" fill="none" stroke="#5a2050" stroke-width="0.8"/>
<polygon points="313.6,593 313.4,587.6 317.6,589.4" fill="#5a2050"/>
<path d="M362,583 C370,584 376,582 380,578" fill="none" stroke="#5a2050" stroke-width="0.8"/>
<polygon points="382,575.6 381.6,580.6 377.6,577.6" fill="#5a2050"/>
<g id="cd36">
<path d="M360.4,456 C360.4,448 357,441 357.2,435 C357.4,429 359.6,427 358.6,422 C357.6,417 352.6,414 353,408.6 C353.4,403 358,401.6 366,401.4 C374,401.2 380,400.8 386,402.4 C391,403.8 393.6,407 392.8,411.4 C392,416 388,419 387,424 C386,429 385,432 386.4,436.6 C388,441.6 393.4,446 393.6,456" fill="none" stroke="#eeaa00" stroke-width="4.4" stroke-linejoin="round"/>
<path d="M360.4,456 C360.4,448 357,441 357.2,435 C357.4,429 359.6,427 358.6,422 C357.6,417 352.6,414 353,408.6 C353.4,403 358,401.6 366,401.4 C374,401.2 380,400.8 386,402.4 C391,403.8 393.6,407 392.8,411.4 C392,416 388,419 387,424 C386,429 385,432 386.4,436.6 C388,441.6 393.4,446 393.6,456" fill="none" stroke="#fdbc00" stroke-width="3.4" stroke-linejoin="round"/>
<rect x="353.6" y="452" width="14" height="107" rx="2" fill="#ffc000" stroke="#e9a800" stroke-width="0.8"/>
<rect x="386.8" y="452" width="14" height="107" rx="2" fill="#ffc000" stroke="#e9a800" stroke-width="0.8"/>
<path d="M359.7,560 c2,3 -1,5 1,8 c1,2 1,3 1,5" fill="none" stroke="#ffc000" stroke-width="1.2"/>
</g>
<line x1="404" y1="566" x2="424" y2="588" stroke="#e0b020" stroke-width="1"/>
<ellipse cx="401" cy="561.8" rx="7.6" ry="4" fill="#2fb050" stroke="#e02a18" stroke-width="1.2" transform="rotate(6 401 561.8)"/>
<rect x="-6" y="-2.8" width="12" height="5.6" fill="#6aa612" transform="translate(405.8,568.8) rotate(8)"/>
<rect x="-5" y="-2.4" width="10" height="4.8" fill="#22e8c8" stroke="#102a2a" stroke-width="1" transform="translate(410.8,575.2) rotate(5)"/>
<rect x="-6.4" y="-2.6" width="12.8" height="5.2" fill="#5fa8d0" stroke="#3a5a70" stroke-width="0.9" transform="translate(425.2,588) rotate(2)"/>
<line x1="390.4" y1="618" x2="423" y2="661" stroke="#5a1e50" stroke-width="3"/>
<rect x="-4.6" y="-2.9" width="9.2" height="5.8" rx="0.8" fill="#ffc400" stroke="#1a1a0a" stroke-width="1.1" transform="translate(392.3,620) rotate(-32)"/>
<rect x="-4.6" y="-2.9" width="9.2" height="5.8" rx="0.8" fill="#f9c4f4" stroke="#1a1a1a" stroke-width="1.1" transform="translate(398.7,627.6) rotate(-32)"/>
<rect x="-4.6" y="-2.9" width="9.2" height="5.8" rx="0.8" fill="#ffee00" stroke="#1a1a0a" stroke-width="1.1" transform="translate(403.7,633.6) rotate(-32)"/>
<rect x="-4.6" y="-2.9" width="9.2" height="5.8" rx="0.8" fill="#6aa612"  transform="translate(408.8,640.7) rotate(-32)"/>
<rect x="-4.6" y="-2.9" width="9.2" height="5.8" rx="0.8" fill="#1f6fc4" stroke="#d02020" stroke-width="1.1" transform="translate(412.8,646.7) rotate(-32)"/>
<ellipse cx="416.8" cy="653.8" rx="5.2" ry="3" fill="#d08a18" stroke="#e82010" stroke-width="1.1" transform="rotate(-30 416.8 653.8)"/>
<rect x="-4.2" y="-3.6" width="8.4" height="7.2" fill="#7030a0" transform="translate(422.9,660.6) rotate(-32)"/>
<g id="tsp">
<path d="M464,450 C463,442 456,436 455.6,428 C455.4,421 462,420.4 472,420.4 C482,420.4 491,419.6 491,426 C491,433 483,438 485,442.6 C487,446 493,446 493.6,451" fill="none" stroke="#48b8d0" stroke-width="4.3" stroke-linecap="round" stroke-linejoin="round"/>
<path d="M464,450 C463,442 456,436 455.6,428 C455.4,421 462,420.4 472,420.4 C482,420.4 491,419.6 491,426 C491,433 483,438 485,442.6 C487,446 493,446 493.6,451" fill="none" stroke="#7cdcef" stroke-width="3" stroke-linecap="round" stroke-linejoin="round"/>
<path d="M520.6,450 C520.6,430 518,412 517.4,398 C517,384 519,377.4 528,376.6 C538,376 543.6,380 543.6,386 C543.6,392 540,396 541.6,402 C543.6,409 548.4,412 548.6,424 C548.8,436 547.6,442 547.6,450" fill="none" stroke="#48b8d0" stroke-width="4.3" stroke-linecap="round" stroke-linejoin="round"/>
<path d="M520.6,450 C520.6,430 518,412 517.4,398 C517,384 519,377.4 528,376.6 C538,376 543.6,380 543.6,386 C543.6,392 540,396 541.6,402 C543.6,409 548.4,412 548.6,424 C548.8,436 547.6,442 547.6,450" fill="none" stroke="#7cdcef" stroke-width="3" stroke-linecap="round" stroke-linejoin="round"/>
<path d="M466.4,554 C466,560 461,562 460.6,567 C460.4,572 467,573 467.6,577 C468,581 466.4,583 466.4,587" fill="none" stroke="#48b8d0" stroke-width="4.3" stroke-linecap="round" stroke-linejoin="round"/>
<path d="M466.4,554 C466,560 461,562 460.6,567 C460.4,572 467,573 467.6,577 C468,581 466.4,583 466.4,587" fill="none" stroke="#7cdcef" stroke-width="3" stroke-linecap="round" stroke-linejoin="round"/>
<path d="M493,554 C493,564 493,574 497,579 C501,584 506,583 510,580 C514,577 517,580 519,583 C522,586 526,583 525.6,576 C525,568 524.5,562 524.5,554" fill="none" stroke="#48b8d0" stroke-width="4.3" stroke-linecap="round" stroke-linejoin="round"/>
<path d="M493,554 C493,564 493,574 497,579 C501,584 506,583 510,580 C514,577 517,580 519,583 C522,586 526,583 525.6,576 C525,568 524.5,562 524.5,554" fill="none" stroke="#7cdcef" stroke-width="3" stroke-linecap="round" stroke-linejoin="round"/>
<path d="M550.6,554 C551.6,562 541,570 540.6,579 C540.4,588 553,594 558,602 C562,609 560.8,618 560.8,627" fill="none" stroke="#48b8d0" stroke-width="4.3" stroke-linecap="round" stroke-linejoin="round"/>
<path d="M550.6,554 C551.6,562 541,570 540.6,579 C540.4,588 553,594 558,602 C562,609 560.8,618 560.8,627" fill="none" stroke="#7cdcef" stroke-width="3" stroke-linecap="round" stroke-linejoin="round"/>
<rect x="459.6" y="449.4" width="14" height="107" rx="3.6" fill="#7cdcef" stroke="#48b8d0" stroke-width="0.9"/>
<rect x="486.6" y="449.4" width="14" height="107" rx="3.6" fill="#7cdcef" stroke="#48b8d0" stroke-width="0.9"/>
<rect x="514.4" y="449.4" width="14" height="107" rx="3.6" fill="#7cdcef" stroke="#48b8d0" stroke-width="0.9"/>
<rect x="541" y="449.4" width="14" height="107" rx="3.6" fill="#7cdcef" stroke="#48b8d0" stroke-width="0.9"/>
</g>
<g id="integrin" fill="#166cc4" stroke="#0a142c" stroke-width="1.4">
<rect x="629.3" y="470" width="8.2" height="120.6" />
<ellipse cx="632.6" cy="462" rx="16.2" ry="10.4" transform="rotate(74 632.6 462)"/>
<ellipse cx="624.5" cy="431.6" rx="15.4" ry="9.6" transform="rotate(62 624.5 431.6)"/>
<ellipse cx="608" cy="407" rx="16.6" ry="10.4" transform="rotate(35 608 407)"/>
<ellipse cx="577.2" cy="392.4" rx="21" ry="12.2" transform="rotate(-14 577.2 392.4)"/>
</g>
<line x1="227.6" y1="431.6" x2="238.2" y2="493.7" stroke="#22b14c" stroke-width="2.3" stroke-dasharray="7,5"/><polygon points="239.4,500.6 234.7,494.3 241.8,493.1" fill="#22b14c"/>
<line x1="240.6" y1="562.5" x2="279.3" y2="582.3" stroke="#22b14c" stroke-width="2.3" stroke-dasharray="7,5"/><polygon points="285.5,585.5 277.6,585.5 280.9,579.1" fill="#22b14c"/>
<line x1="303.6" y1="604" x2="271.7" y2="624.2" stroke="#22b14c" stroke-width="2.3" stroke-dasharray="7,5"/><polygon points="265.8,628.0 269.8,621.2 273.6,627.3" fill="#22b14c"/>
<line x1="393.4" y1="415" x2="378.7" y2="490.7" stroke="#22b14c" stroke-width="2.3" stroke-dasharray="7,5"/><polygon points="377.4,497.6 375.2,490.0 382.3,491.4" fill="#22b14c"/>
<line x1="377" y1="562" x2="385.1" y2="574.2" stroke="#22b14c" stroke-width="2.3" stroke-dasharray="7,5"/><polygon points="389.0,580.0 382.1,576.2 388.1,572.2" fill="#22b14c"/>
<line x1="420" y1="608.4" x2="433.1" y2="610.1" stroke="#22b14c" stroke-width="2.3" stroke-dasharray="7,5"/><polygon points="440.0,611.0 432.6,613.7 433.5,606.5" fill="#22b14c"/>
<g transform="translate(239.4,525.8) rotate(90)"><rect x="-25.4" y="-7.7" width="50.8" height="15.4" rx="7.7" fill="#d8cfa0" opacity="0.75"/><rect x="-24.5" y="-6.8" width="49" height="13.6" rx="6.8" fill="url(#gPill)" stroke="#f0c000" stroke-width="0.5"/><text x="0" y="2.7" text-anchor="middle" font-family="'Liberation Sans',Arial,sans-serif" font-size="8" fill="#3e3204" stroke="#3e3204" stroke-width="0.18">Fatty acid</text></g>
<g transform="translate(376.4,522.4) rotate(90)"><rect x="-25.15" y="-7.7" width="50.3" height="15.4" rx="7.7" fill="#d8cfa0" opacity="0.75"/><rect x="-24.25" y="-6.8" width="48.5" height="13.6" rx="6.8" fill="url(#gPill)" stroke="#f0c000" stroke-width="0.5"/><text x="0" y="2.7" text-anchor="middle" font-family="'Liberation Sans',Arial,sans-serif" font-size="8" fill="#3e3204" stroke="#3e3204" stroke-width="0.18">Fatty acid</text></g>
<ellipse cx="204.4" cy="453.8" rx="4" ry="6.3" fill="url(#gRaftB)" fill-opacity="0.9" stroke="#22325a" stroke-width="1.5"/>
<ellipse cx="213.7" cy="453.8" rx="4" ry="6.3" fill="url(#gRaftB)" fill-opacity="0.9" stroke="#22325a" stroke-width="1.5"/>
<ellipse cx="223.0" cy="453.8" rx="4" ry="6.3" fill="url(#gRaftB)" fill-opacity="0.9" stroke="#22325a" stroke-width="1.5"/>
<ellipse cx="232.3" cy="453.8" rx="4" ry="6.3" fill="url(#gRaftB)" fill-opacity="0.9" stroke="#22325a" stroke-width="1.5"/>
<ellipse cx="241.7" cy="453.8" rx="4" ry="6.3" fill="url(#gRaftB)" fill-opacity="0.9" stroke="#22325a" stroke-width="1.5"/>
<ellipse cx="251.0" cy="453.8" rx="4" ry="6.3" fill="url(#gRaftB)" fill-opacity="0.9" stroke="#22325a" stroke-width="1.5"/>
<ellipse cx="260.3" cy="453.8" rx="4" ry="6.3" fill="url(#gRaftB)" fill-opacity="0.9" stroke="#22325a" stroke-width="1.5"/>
<ellipse cx="269.6" cy="453.8" rx="4" ry="6.3" fill="url(#gRaftB)" fill-opacity="0.9" stroke="#22325a" stroke-width="1.5"/>
<ellipse cx="204.4" cy="553.8" rx="4" ry="6.3" fill="url(#gRaftB)" fill-opacity="0.9" stroke="#22325a" stroke-width="1.5"/>
<ellipse cx="213.7" cy="553.8" rx="4" ry="6.3" fill="url(#gRaftB)" fill-opacity="0.9" stroke="#22325a" stroke-width="1.5"/>
<ellipse cx="223.0" cy="553.8" rx="4" ry="6.3" fill="url(#gRaftB)" fill-opacity="0.9" stroke="#22325a" stroke-width="1.5"/>
<ellipse cx="232.3" cy="553.8" rx="4" ry="6.3" fill="url(#gRaftB)" fill-opacity="0.9" stroke="#22325a" stroke-width="1.5"/>
<ellipse cx="241.7" cy="553.8" rx="4" ry="6.3" fill="url(#gRaftB)" fill-opacity="0.9" stroke="#22325a" stroke-width="1.5"/>
<ellipse cx="251.0" cy="553.8" rx="4" ry="6.3" fill="url(#gRaftB)" fill-opacity="0.9" stroke="#22325a" stroke-width="1.5"/>
<ellipse cx="260.3" cy="553.8" rx="4" ry="6.3" fill="url(#gRaftB)" fill-opacity="0.9" stroke="#22325a" stroke-width="1.5"/>
<ellipse cx="269.6" cy="553.8" rx="4" ry="6.3" fill="url(#gRaftB)" fill-opacity="0.9" stroke="#22325a" stroke-width="1.5"/>
<ellipse cx="340.2" cy="453.6" rx="4" ry="6.3" fill="url(#gRaftB)" fill-opacity="0.9" stroke="#22325a" stroke-width="1.5"/>
<ellipse cx="349.5" cy="453.6" rx="4" ry="6.3" fill="url(#gRaftB)" fill-opacity="0.9" stroke="#22325a" stroke-width="1.5"/>
<ellipse cx="358.7" cy="453.6" rx="4" ry="6.3" fill="url(#gRaftB)" fill-opacity="0.9" stroke="#22325a" stroke-width="1.5"/>
<ellipse cx="368.0" cy="453.6" rx="4" ry="6.3" fill="url(#gRaftB)" fill-opacity="0.9" stroke="#22325a" stroke-width="1.5"/>
<ellipse cx="377.2" cy="453.6" rx="4" ry="6.3" fill="url(#gRaftB)" fill-opacity="0.9" stroke="#22325a" stroke-width="1.5"/>
<ellipse cx="386.5" cy="453.6" rx="4" ry="6.3" fill="url(#gRaftB)" fill-opacity="0.9" stroke="#22325a" stroke-width="1.5"/>
<ellipse cx="395.7" cy="453.6" rx="4" ry="6.3" fill="url(#gRaftB)" fill-opacity="0.9" stroke="#22325a" stroke-width="1.5"/>
<ellipse cx="405.0" cy="453.6" rx="4" ry="6.3" fill="url(#gRaftB)" fill-opacity="0.9" stroke="#22325a" stroke-width="1.5"/>
<ellipse cx="340.2" cy="553.2" rx="4" ry="6.3" fill="url(#gRaftB)" fill-opacity="0.9" stroke="#22325a" stroke-width="1.5"/>
<ellipse cx="349.5" cy="553.2" rx="4" ry="6.3" fill="url(#gRaftB)" fill-opacity="0.9" stroke="#22325a" stroke-width="1.5"/>
<ellipse cx="358.7" cy="553.2" rx="4" ry="6.3" fill="url(#gRaftB)" fill-opacity="0.9" stroke="#22325a" stroke-width="1.5"/>
<ellipse cx="368.0" cy="553.2" rx="4" ry="6.3" fill="url(#gRaftB)" fill-opacity="0.9" stroke="#22325a" stroke-width="1.5"/>
<ellipse cx="377.2" cy="553.2" rx="4" ry="6.3" fill="url(#gRaftB)" fill-opacity="0.9" stroke="#22325a" stroke-width="1.5"/>
<ellipse cx="386.5" cy="553.2" rx="4" ry="6.3" fill="url(#gRaftB)" fill-opacity="0.9" stroke="#22325a" stroke-width="1.5"/>
<ellipse cx="395.7" cy="553.2" rx="4" ry="6.3" fill="url(#gRaftB)" fill-opacity="0.9" stroke="#22325a" stroke-width="1.5"/>
<ellipse cx="405.0" cy="553.2" rx="4" ry="6.3" fill="url(#gRaftB)" fill-opacity="0.9" stroke="#22325a" stroke-width="1.5"/>
<g transform="translate(211.2,416.5) rotate(27)"><rect x="-25.9" y="-8.0" width="51.8" height="16.0" rx="8.0" fill="#d8cfa0" opacity="0.75"/><rect x="-25.0" y="-7.1" width="50" height="14.2" rx="7.1" fill="url(#gPill)" stroke="#f0c000" stroke-width="0.5"/><text x="0" y="2.7" text-anchor="middle" font-family="'Liberation Sans',Arial,sans-serif" font-size="8" fill="#3e3204" stroke="#3e3204" stroke-width="0.18">Fatty acid</text></g>
<g transform="translate(311.9,596.5) rotate(27)"><rect x="-25.9" y="-8.0" width="51.8" height="16.0" rx="8.0" fill="#d8cfa0" opacity="0.75"/><rect x="-25.0" y="-7.1" width="50" height="14.2" rx="7.1" fill="url(#gPill)" stroke="#f0c000" stroke-width="0.5"/><text x="0" y="2.7" text-anchor="middle" font-family="'Liberation Sans',Arial,sans-serif" font-size="8" fill="#3e3204" stroke="#3e3204" stroke-width="0.18">Fatty acid</text></g>
<g transform="translate(413.4,395) rotate(-32)"><rect x="-25.9" y="-8.0" width="51.8" height="16.0" rx="8.0" fill="#d8cfa0" opacity="0.75"/><rect x="-25.0" y="-7.1" width="50" height="14.2" rx="7.1" fill="url(#gPill)" stroke="#f0c000" stroke-width="0.5"/><text x="0" y="2.7" text-anchor="middle" font-family="'Liberation Sans',Arial,sans-serif" font-size="8" fill="#3e3204" stroke="#3e3204" stroke-width="0.18">Fatty acid</text></g>
<g transform="translate(402,594.7) rotate(33)"><rect x="-25.9" y="-8.0" width="51.8" height="16.0" rx="8.0" fill="#d8cfa0" opacity="0.75"/><rect x="-25.0" y="-7.1" width="50" height="14.2" rx="7.1" fill="url(#gPill)" stroke="#f0c000" stroke-width="0.5"/><text x="0" y="2.7" text-anchor="middle" font-family="'Liberation Sans',Arial,sans-serif" font-size="8" fill="#3e3204" stroke="#3e3204" stroke-width="0.18">Fatty acid</text></g>
<polygon points="257,631.6 282.4,642.8 260.4,646" fill="url(#gTri)"/>
<g transform="translate(235.8,638.6) rotate(4)"><rect x="-25.9" y="-8.0" width="51.8" height="16.0" rx="8.0" fill="#d8cfa0" opacity="0.75"/><rect x="-25.0" y="-7.1" width="50" height="14.2" rx="7.1" fill="url(#gPill)" stroke="#f0c000" stroke-width="0.5"/><text x="0" y="2.7" text-anchor="middle" font-family="'Liberation Sans',Arial,sans-serif" font-size="8" fill="#3e3204" stroke="#3e3204" stroke-width="0.18">Fatty acid</text></g>
<g transform="translate(263.8,657.7) rotate(12)"><ellipse rx="26.4" ry="10" fill="#ffc000" stroke="#222" stroke-width="1.4"/><text y="3.2" text-anchor="middle" font-family="'Liberation Sans',Arial,sans-serif" font-size="9.4" fill="#3a7d22" stroke="#3a7d22" stroke-width="0.2">Sm14</text></g>
<path d="M487,644 C484,654 482,664 481.6,672" fill="none" stroke="#5a2050" stroke-width="0.8"/>
<polygon points="481.4,675.4 479.4,670.6 483.8,670.8" fill="#5a2050"/>
<g transform="translate(489.6,619.2) rotate(20)"><ellipse rx="25.6" ry="9.4" fill="#ffc000" stroke="#222" stroke-width="1.4"/><text y="3.2" text-anchor="middle" font-family="'Liberation Sans',Arial,sans-serif" font-size="9.4" fill="#3a7d22" stroke="#3a7d22" stroke-width="0.2">Sm14</text></g>
<polygon points="486.4,628.6 504,648.6 478,640" fill="url(#gTri)"/>
<g transform="translate(464,625.6) rotate(26)"><rect x="-26.4" y="-8.0" width="52.8" height="16.0" rx="8.0" fill="#d8cfa0" opacity="0.75"/><rect x="-25.5" y="-7.1" width="51" height="14.2" rx="7.1" fill="url(#gPill)" stroke="#f0c000" stroke-width="0.5"/><text x="0" y="2.7" text-anchor="middle" font-family="'Liberation Sans',Arial,sans-serif" font-size="8" fill="#3e3204" stroke="#3e3204" stroke-width="0.18">Fatty acid</text></g>
<g fill="none" stroke="#c00000" stroke-width="3" stroke-dasharray="9.2,12.6" stroke-linecap="round">
<circle cx="386.2" cy="392" r="54.6"/>
<circle cx="591" cy="387.4" r="49"/>
<ellipse cx="479.6" cy="623.4" rx="48" ry="38.2" stroke-dasharray="7.4,12.4"/>
</g>
<text x="12.9" y="342.6" font-family="'DejaVu Sans',Verdana,sans-serif" font-weight="bold" font-size="8.8" fill="#111">c)</text>
<text x="176" y="393.2" font-family="'Liberation Sans',Arial,sans-serif" font-size="11.5" fill="#111" stroke="#111" stroke-width="0.3" text-anchor="middle">I</text>
<text x="293.6" y="393.2" font-family="'Liberation Sans',Arial,sans-serif" font-size="11.5" fill="#111" stroke="#111" stroke-width="0.3" text-anchor="middle">II</text>
<g font-family="'Liberation Sans',Arial,sans-serif" font-weight="bold" font-size="8.5" fill="#1c78c0">
<text x="162" y="445.2">Lipid Raft</text>
<text x="277.6" y="441.6">Smp_143830</text>
<text x="351.6" y="381.6">CD36-like</text>
<text x="351.6" y="392.6">proteins</text>
<text x="476.6" y="400.6" text-anchor="middle">Tetraspanins</text>
<text x="476.6" y="411.2" text-anchor="middle">(CD9/81)</text>
</g>
<text x="476.8" y="436.6" font-family="'Liberation Sans',Arial,sans-serif" font-size="8.8" fill="#262626" text-anchor="middle">EC1</text>
<text x="532.5" y="413.4" font-family="'Liberation Sans',Arial,sans-serif" font-size="8.8" fill="#262626" text-anchor="middle">EC2</text>
<text x="560.3" y="370.4" font-family="'Liberation Sans',Arial,sans-serif" font-size="11.4" fill="#1f6fc0" stroke="#1f6fc0" stroke-width="0.3">Smβ-Int1</text>
<text x="623.3" y="334.2" font-family="'Liberation Sans',Arial,sans-serif" font-size="10" fill="#76b440" stroke="#76b440" stroke-width="0.25">Host interface</text>
<text x="605.4" y="689.6" font-family="'Liberation Sans',Arial,sans-serif" font-size="10" fill="#76b440" stroke="#76b440" stroke-width="0.25">Parasite interface</text>
<text x="449.8" y="684.7" font-family="'Liberation Sans',Arial,sans-serif" font-size="12" fill="#111" stroke="#111" stroke-width="0.2">Acyl-group</text>
<g font-family="'Liberation Sans',Arial,sans-serif" font-size="8.6" fill="#262626" text-anchor="middle"><text x="353.4" y="629.4">AMP-dependent</text><text x="353.4" y="640.4">synthetase/ligase</text><text x="353.4" y="651">domain</text></g>
<rect x="9" y="563.6" width="18.5" height="9.6" rx="1.6" fill="#6aa612" />
<text x="37.8" y="575.3" font-family="'Liberation Sans',Arial,sans-serif" font-size="8.6" stroke="#1a1a1a" stroke-width="0.12" fill="#1a1a1a">MAPK docking motif (JIP1 type)</text>
<rect x="10.5" y="580.2" width="16" height="8" rx="1.6" fill="#f9c4f4" stroke="#2a1a2a" stroke-width="1.2"/>
<text x="37.4" y="589.3" font-family="'Liberation Sans',Arial,sans-serif" font-size="8.6" stroke="#1a1a1a" stroke-width="0.12" fill="#1a1a1a">EH ligand</text>
<rect x="10.5" y="593.2" width="16" height="8" rx="1.6" fill="#ffc000" stroke="#2a1a0a" stroke-width="1.2"/>
<text x="37.4" y="602" font-family="'Liberation Serif',Georgia,serif" font-size="9.15" stroke="#1a1a1a" stroke-width="0.16" fill="#1a1a1a">PP2A holoenzyme B56-docking site</text>
<rect x="11" y="608.6" width="15.5" height="8" rx="1.6" fill="#7030a0" />
<text x="37.4" y="615.6" font-family="'Liberation Sans',Arial,sans-serif" font-size="8.6" stroke="#1a1a1a" stroke-width="0.12" fill="#1a1a1a">PDZ domain ligands</text>
<rect x="10.5" y="622.2" width="16" height="7.6" rx="1.6" fill="#ffff00" stroke="#2a2a0a" stroke-width="1.2"/>
<text x="37.4" y="629" font-family="'Liberation Serif',Georgia,serif" font-size="9.15" stroke="#1a1a1a" stroke-width="0.16" fill="#1a1a1a">SH2 domain</text>
<ellipse cx="18.3" cy="639" rx="8" ry="4" fill="#d08a18" stroke="#e82010" stroke-width="1.2"/>
<text x="37" y="642" font-family="'Liberation Sans',Arial,sans-serif" font-size="8.6" stroke="#1a1a1a" stroke-width="0.12" fill="#1a1a1a">PTB ligand</text>
<rect x="11" y="648.4" width="15.5" height="7.6" rx="1.6" fill="#1f6fc4" stroke="#d02020" stroke-width="1.2"/>
<text x="34.6" y="655" font-family="'Liberation Sans',Arial,sans-serif" font-size="8.6" stroke="#1a1a1a" stroke-width="0.12" fill="#1a1a1a">NEK2 phosphorylation site</text>
<rect x="11" y="662" width="15.5" height="6.6" rx="1.6" fill="#5fa8d0" stroke="#707880" stroke-width="1.2"/>
<text x="34.6" y="668.2" font-family="'Liberation Sans',Arial,sans-serif" font-size="8.6" stroke="#1a1a1a" stroke-width="0.12" fill="#1a1a1a">Actin-binding motifs</text>
<ellipse cx="18.6" cy="677.4" rx="8" ry="4" fill="#2fb050" stroke="#e82010" stroke-width="1.2"/>
<text x="34.6" y="680.6" font-family="'Liberation Sans',Arial,sans-serif" font-size="8.6" stroke="#1a1a1a" stroke-width="0.12" fill="#1a1a1a">Caspase cleavage motif</text>
<rect x="10.5" y="685.6" width="16" height="7.6" rx="1.6" fill="#22e8c8" stroke="#0a2a2a" stroke-width="1.2"/>
<text x="37.4" y="693" font-family="'Liberation Serif',Georgia,serif" font-size="9.15" stroke="#1a1a1a" stroke-width="0.16" fill="#1a1a1a">SH3 domain</text>
</g>
</svg>
</body></html>
